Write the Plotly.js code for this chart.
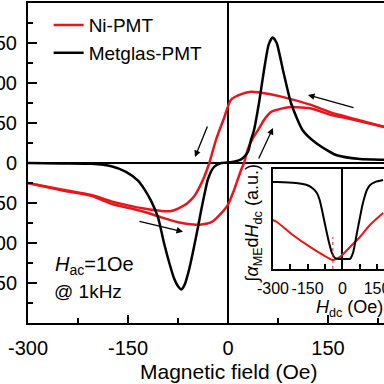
<!DOCTYPE html>
<html>
<head>
<meta charset="utf-8">
<script src="https://cdn.plot.ly/plotly-3.0.1.min.js"></script>
<style>html,body{margin:0;padding:0;background:#fff;}#chart{width:384px;height:384px;}</style>
</head>
<body>
<div id="chart"></div>
<script>
// ---- Main panel data (Oe, ME signal) ----
// Ni-PMT, branch swept from +H to -H
const niDecX = [-300,-250,-205,-175,-150,-126,-100,-85,-75,-62,-51,-44,-36,-28,-18,-6,4.5,20,34.5,57,80,123,155,172,235,300];
const niDecY = [-25,-33,-40,-48,-53,-57,-60,-60,-57,-51,-42,-32,-18,0,29,56,79,86,89,87,83,73,63,59,45,33];
// Ni-PMT, branch swept from -H to +H
const niIncX = [-300,-250,-205,-175,-150,-126,-100,-75,-52,-40,-25,-15,0,9,19.5,24,30,38,45,55,65,80,95,125,155,172,235,300];
const niIncY = [-25,-34,-41,-51,-56,-61,-68,-74,-77,-77,-74,-67,-52,-34,-9,0,18,32,41,55,64,68,70,68,60,57,45,33];
// Metglas-PMT
const metX = [-300,-250,-205,-175,-153,-135,-126,-115,-105,-96,-88,-81,-75,-70,-65,-58,-51,-45,-40,-36,-30,-21,-10,4,15,22,30,34.5,39,46.5,54,61,67,73,82.5,94.5,112,132,162,198,235,300];
const metY = [0,-0.5,-1,-4,-11,-22,-32,-48,-68,-100,-125,-144,-154,-158,-152,-132,-105,-80,-58,-42,-20,-5,0,1,3,6,14,29,41,75,116,148,157,150,116,75,41,25,10,5,4,3];

// ---- Inset data (H_dc in Oe, integral in a.u.) ----
const inMetX = [-300,-283,-200,-153,-130,-110,-98,-88,-78,-67,-56,-45,-32,-15,0,18,33,46,55,63,74,85,96,106,120,141,176];
const inMetY = [87,87,86,84,81,76,69,59,48,36,25,16,11,10,10,10,10,16,26,36,49,62,72,79,84,87,89];
const inNiX = [-300,-283,-214,-140,-84,-41,-10,33,76,119,176];
const inNiY = [49,47,34,22,14,9,12,22,32,44,56];
const inMarkX = [-41,-41];
const inMarkY = [0,32];

// ---- Tick labels ----
const xTickVals = [-300,-150,0,150];
const xTickText = ['-300','-150','0','150'];
const xMinorVals = [-225,-75,75,225];
const yTickVals = [-150,-100,-50,0,50,100,150];
const yTickText = ['-150','-100','-50','0','50','100','150'];
const yMinorVals = [-175,-125,-75,-25,25,75,125,175];
const inTickVals = [-300,-150,0,150];
const inTickText = ['-300','-150','0','150'];
const inMinorVals = [-225,-75,75];

const RED = '#e8161c';
const BLACK = '#000000';

const traces = [
  {x: niDecX, y: niDecY, mode:'lines', name:'Ni-PMT', line:{color:RED, width:2.5, shape:'spline', smoothing:0.6}},
  {x: niIncX, y: niIncY, mode:'lines', name:'Ni-PMT', showlegend:false, line:{color:RED, width:2.5, shape:'spline', smoothing:0.6}},
  {x: metX, y: metY, mode:'lines', name:'Metglas-PMT', line:{color:BLACK, width:2.5, shape:'spline', smoothing:0.6}},
  {x: inNiX, y: inNiY, xaxis:'x2', yaxis:'y2', mode:'lines', showlegend:false, line:{color:RED, width:2, shape:'spline', smoothing:0.6}},
  {x: inMetX, y: inMetY, xaxis:'x2', yaxis:'y2', mode:'lines', showlegend:false, line:{color:BLACK, width:2, shape:'spline', smoothing:0.6}},
  {x: inMarkX, y: inMarkY, xaxis:'x2', yaxis:'y2', mode:'lines', showlegend:false, line:{color:RED, width:1, dash:'dot'}}
];

const FONT = 'Arial, "Liberation Sans", sans-serif';
function arrow(hx, hy, tx, ty){
  return {x:hx, y:hy, ax:tx, ay:ty, xref:'x', yref:'y', axref:'x', ayref:'y', text:'', showarrow:true,
          arrowhead:2, arrowsize:1, arrowwidth:1.3, arrowcolor:'black'};
}

const layout = {
  width:384, height:384,
  margin:{l:28, r:0, t:3, b:61},
  paper_bgcolor:'#ffffff', plot_bgcolor:'#ffffff',
  font:{family:FONT, color:'black'},
  showlegend:true,
  legend:{x:0.058, y:0.99, xanchor:'left', yanchor:'top', bgcolor:'rgba(0,0,0,0)', tracegroupgap:0, font:{size:19, family:FONT}},
  xaxis:{
    range:[-300,234], domain:[0,1], anchor:'y',
    tickmode:'array', tickvals:xTickVals, ticktext:xTickText, tickangle:0,
    ticks:'inside', ticklen:8, tickwidth:2, tickcolor:'black',
    minor:{tickmode:'array', tickvals:xMinorVals, ticks:'inside', ticklen:5, tickwidth:2, tickcolor:'black', showgrid:false},
    showline:true, linewidth:2, linecolor:'black', mirror:true,
    zeroline:true, zerolinewidth:2, zerolinecolor:'black', showgrid:false,
    tickfont:{size:20, family:FONT}, ticklabelstandoff:6
  },
  yaxis:{
    range:[-200,200], domain:[0,1], anchor:'x',
    tickmode:'array', tickvals:yTickVals, ticktext:yTickText,
    ticks:'inside', ticklen:9, tickwidth:2, tickcolor:'black',
    minor:{tickmode:'array', tickvals:yMinorVals, ticks:'inside', ticklen:5, tickwidth:2, tickcolor:'black', showgrid:false},
    showline:true, linewidth:2, linecolor:'black', mirror:false,
    zeroline:true, zerolinewidth:2, zerolinecolor:'black', showgrid:false,
    tickfont:{size:20, family:FONT}, ticklabelstandoff:5, ticklabeloverflow:'allow'
  },
  xaxis2:{
    range:[-300,180], domain:[0.688,1], anchor:'y2',
    tickmode:'array', tickvals:inTickVals, ticktext:inTickText, tickangle:0,
    ticks:'inside', ticklen:5, tickwidth:2, tickcolor:'black',
    minor:{tickmode:'array', tickvals:inMinorVals, ticks:'inside', ticklen:5, tickwidth:2, tickcolor:'black', showgrid:false},
    showline:true, linewidth:2, linecolor:'black', mirror:true,
    zeroline:true, zerolinewidth:2, zerolinecolor:'black', showgrid:false,
    tickfont:{size:16, family:FONT}, ticklabelstandoff:4, ticklabeloverflow:'allow'
  },
  yaxis2:{
    range:[0,100], domain:[0.169,0.481], anchor:'x2',
    showticklabels:false, ticks:'',
    showline:true, linewidth:2, linecolor:'black', mirror:true,
    zeroline:false, showgrid:false
  },
  annotations:[
    {text:'Magnetic field (Oe)', xref:'x', yref:'paper', x:0, y:-0.153, xanchor:'center', yanchor:'middle', showarrow:false, font:{size:21, family:FONT}},
    {text:'<i>H</i><sub>ac</sub>=1Oe', xref:'paper', yref:'paper', x:0.07, y:0.181, xanchor:'left', yanchor:'middle', showarrow:false, font:{size:20, family:FONT}},
    {text:'@ 1kHz', xref:'paper', yref:'paper', x:0.067, y:0.097, xanchor:'left', yanchor:'middle', showarrow:false, font:{size:19, family:FONT}},
    {text:'<i>H</i><sub>dc</sub> (Oe)', xref:'paper', yref:'paper', x:0.902, y:0.046, xanchor:'center', yanchor:'middle', showarrow:false, font:{size:18, family:FONT}},
    {text:'\u222B<i>\u03B1</i><sub>ME</sub>d<i>H</i><sub>dc</sub> (a.u.)', xref:'paper', yref:'paper', x:0.634, y:0.31, xanchor:'center', yanchor:'middle', textangle:-90, showarrow:false, font:{size:18, family:FONT}},
    arrow(120, 85, 190.5, 68.75),
    arrow(-49.5, 7.5, -30, 47.5),
    arrow(67.5, 43.75, 45, 3.75),
    arrow(-67.5, -86, -135, -72.5)
  ]
};

Plotly.newPlot('chart', traces, layout, {staticPlot:true, displayModeBar:false});
</script>
</body>
</html>
